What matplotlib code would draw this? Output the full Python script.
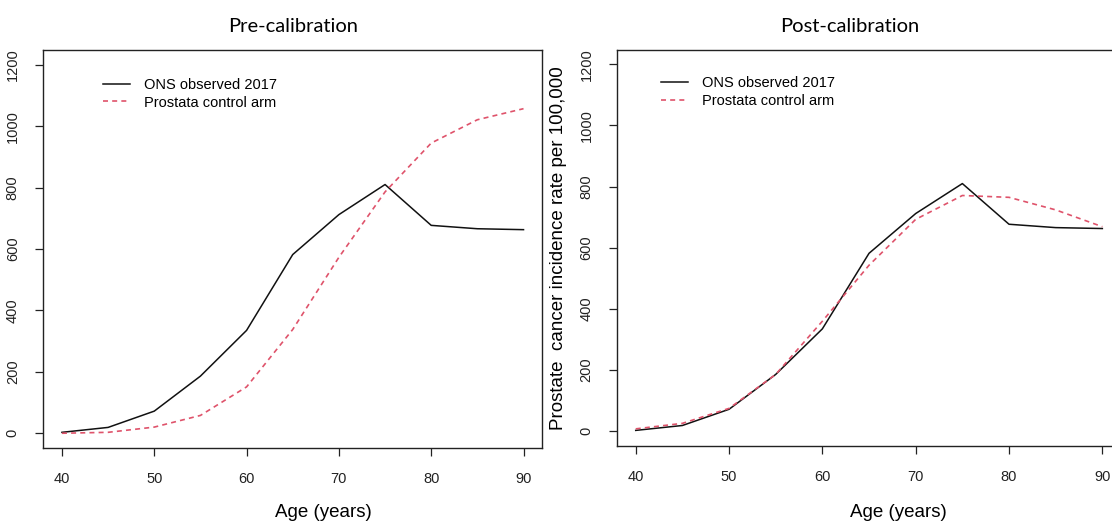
import matplotlib
matplotlib.use("Agg")
import matplotlib.pyplot as plt

ages = [40, 45, 50, 55, 60, 65, 70, 75, 80, 85, 90]
ons_observed = [3, 19, 72, 186, 335, 582, 712, 810, 677, 666, 663]
control_pre = [0, 3, 20, 58, 151, 338, 573, 786, 945, 1021, 1057]
control_post = [8, 26, 75, 186, 360, 543, 693, 771, 765, 724, 669]

xticks = [40, 50, 60, 70, 80, 90]
yticks = [0, 200, 400, 600, 800, 1000, 1200]
titles = ["Pre-calibration", "Post-calibration"]
legend_labels = ["ONS observed 2017", "Prostata control arm"]
red = "#DF536B"

plt.rcParams["font.family"] = ["Liberation Sans", "DejaVu Sans"]

fig = plt.figure(figsize=(11.12, 5.25), dpi=100)
ax1 = fig.add_axes([0.0391, 0.1467, 0.4483, 0.758])
ax2 = fig.add_axes([0.5549, 0.1505, 0.4532, 0.755])


def draw_panel(ax, model, title, title_x, xlab_xy, leg_xy):
    ax.plot(ages, ons_observed, color="#111111", lw=1.1, label=legend_labels[0])
    ax.plot(ages, model, color=red, lw=1.2, dashes=(3, 2.5), label=legend_labels[1])
    ax.set_xlim(38, 92)
    ax.set_ylim(-48, 1248)
    ax.set_xticks(xticks)
    ax.set_yticks(yticks)
    ax.tick_params(direction="out", length=6, width=0.9, labelsize=10.5, pad=11,
                   colors="#222222")
    for lab in ax.get_yticklabels():
        lab.set_rotation(90)
        lab.set_va("center")
    for s in ax.spines.values():
        s.set_linewidth(1.0)
        s.set_color("#222222")
    ax.set_xlabel("Age (years)", fontsize=13.5, va="center")
    ax.xaxis.set_label_coords(*xlab_xy)
    ax.set_title(title, fontsize=14.5, family=["Lato", "DejaVu Sans"], pad=13, x=title_x)
    ax.legend(loc="upper left", bbox_to_anchor=leg_xy, frameon=False,
              fontsize=10.5, handlelength=1.85, handletextpad=0.96,
              labelspacing=0.25, borderpad=0, borderaxespad=0)


draw_panel(ax1, control_pre, titles[0], 0.5, (0.561, -0.163), (0.119, 0.93))
draw_panel(ax2, control_post, titles[1], 0.462, (0.558, -0.169), (0.0873, 0.933))
ax2.set_ylabel("Prostate  cancer incidence rate per 100,000", fontsize=13.5, labelpad=9)

fig.savefig("out.png", dpi=100)
